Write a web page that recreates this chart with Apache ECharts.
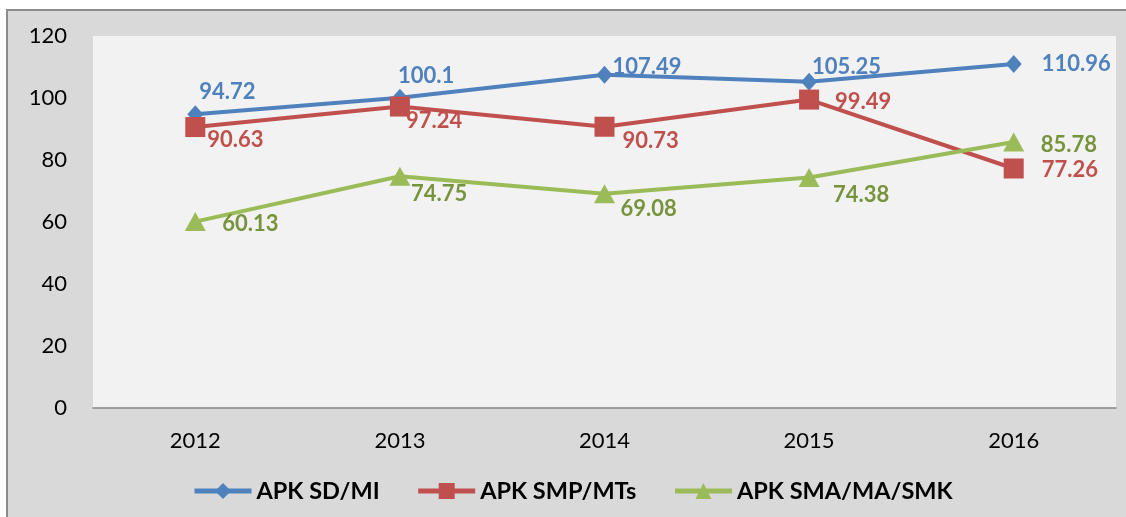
<!DOCTYPE html>
<html>
<head>
<meta charset="utf-8">
<script src="https://cdn.jsdelivr.net/npm/echarts@6/dist/echarts.min.js"></script>
<style>
  html, body { margin: 0; padding: 0; background: #fff; }
  #chart { width: 1126px; height: 517px; }
</style>
</head>
<body>
<div id="chart"></div>
<script>
// data
var years = ['2012', '2013', '2014', '2015', '2016'];
var seriesNames = ['APK SD/MI', 'APK SMP/MTs', 'APK SMA/MA/SMK'];
var apkSD = [94.72, 100.1, 107.49, 105.25, 110.96];
var apkSMP = [90.63, 97.24, 90.73, 99.49, 77.26];
var apkSMA = [60.13, 74.75, 69.08, 74.38, 85.78];
var yTicks = { min: 0, max: 120, step: 20 };

// label nudges (px from the point)
var nudgeSD = [[4, -22], [-2, -22], [8, -8], [3, -15], [28, 0]];
var nudgeSMP = [[12, 13], [6, 14], [18, 14], [26, 2], [28, 1]];
var nudgeSMA = [[27, 2], [11, 18], [16, 15], [24, 17], [27, 3]];

var font = 'Lato, "Open Sans", sans-serif';

// each point carries its own label offset
function points(values, nudge) {
    return values.map(function (v, i) {
        return {
            value: v,
            label: { offset: nudge[i] }
        };
    });
}

function lineSeries(name, values, nudge, lineColor, textColor, symbol, size) {
    return {
        name: name,
        type: 'line',
        data: points(values, nudge),
        symbol: symbol,
        symbolSize: size,
        lineStyle: { color: lineColor, width: 4 },
        itemStyle: { color: lineColor },
        label: {
            show: true,
            position: 'inside',
            align: 'left',
            verticalAlign: 'middle',
            color: textColor,
            fontFamily: font,
            fontWeight: 'bold',
            fontSize: 22
        },
        emphasis: { disabled: true },
        animation: false
    };
}

var myChart = echarts.init(document.getElementById('chart'));
var option = {
    backgroundColor: '#fff',
    animation: false,
    graphic: [{
        type: 'rect',
        z: -10,
        silent: true,
        shape: { x: 7, y: 10, width: 1140, height: 530 },
        style: { fill: '#d9d9d9', stroke: '#8c8c8c', lineWidth: 2 }
    }],
    grid: {
        left: 93, right: 10, top: 36, bottom: 109,
        show: true, backgroundColor: '#f2f2f2', borderWidth: 0
    },
    legend: {
        data: seriesNames,
        left: 187,
        top: 474,
        itemWidth: 57,
        itemHeight: 20,
        itemGap: 36,
        lineStyle: { width: 5 },
        textStyle: { fontFamily: font, fontWeight: 'bold', fontSize: 23.5, color: '#000' }
    },
    xAxis: {
        type: 'category',
        data: years,
        boundaryGap: true,
        axisLine: { lineStyle: { color: '#868686', width: 1.5 } },
        axisTick: { show: false },
        axisLabel: { color: '#000', fontFamily: font, fontSize: 22, margin: 22 }
    },
    yAxis: {
        type: 'value',
        min: yTicks.min,
        max: yTicks.max,
        interval: yTicks.step,
        axisLine: { show: false },
        axisTick: { show: false },
        splitLine: { show: false },
        axisLabel: { color: '#000', fontFamily: font, fontSize: 22, margin: 26 }
    },
    series: [
        lineSeries(seriesNames[0], apkSD, nudgeSD, '#4f81bd', '#4f81bd', 'diamond', [16, 18]),
        lineSeries(seriesNames[1], apkSMP, nudgeSMP, '#c0504d', '#c0504d', 'rect', 20),
        lineSeries(seriesNames[2], apkSMA, nudgeSMA, '#9bbb59', '#77933c', 'triangle', [21, 19])
    ]
};
myChart.setOption(option);
window.onresize = myChart.resize;
</script>
</body>
</html>
